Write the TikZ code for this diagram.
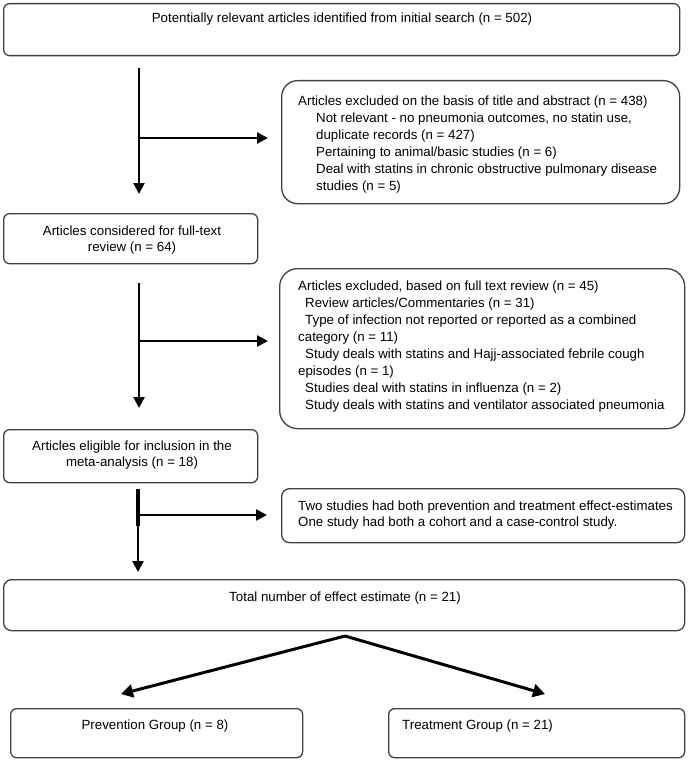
\documentclass[tikz,border=0pt]{standalone}
\usepackage{fontspec}
\setmainfont{Liberation Sans}
\usetikzlibrary{arrows.meta}
\begin{document}
\begin{tikzpicture}[x=1pt,y=-1pt,
  box/.style={draw=black!75, line width=1.3pt, anchor=north west, inner sep=0pt, rounded corners=6pt},
  txt/.style={inner sep=0pt, font=\fontsize{13.3}{17}\selectfont, align=left},
  ctxt/.style={inner sep=0pt, font=\fontsize{13.3}{15.5}\selectfont, align=center},
  arr/.style={line width=2.3pt, -{Triangle[length=11pt,width=11pt]}},
  arrb/.style={line width=3pt, -{Triangle[length=12pt,width=13pt]}}]
\useasboundingbox (0,0) rectangle (689,762);
% boxes
\node[box, minimum width=676pt, minimum height=52pt] (b1) at (3,3) {};
\node[box, minimum width=398pt, minimum height=123pt, rounded corners=16pt] (b2) at (281,80) {};
\node[box, minimum width=254pt, minimum height=50pt] (b3) at (3,213) {};
\node[box, minimum width=405pt, minimum height=160pt, rounded corners=18pt] (b4) at (279,268) {};
\node[box, minimum width=254pt, minimum height=53pt] (b5) at (3,429) {};
\node[box, minimum width=403pt, minimum height=54pt, rounded corners=8pt] (b6) at (281,488) {};
\node[box, minimum width=681pt, minimum height=51pt, rounded corners=8pt] (b7) at (3,579) {};
\node[box, minimum width=292pt, minimum height=49pt] (b8) at (10,708) {};
\node[box, minimum width=296pt, minimum height=49pt] (b9) at (388,708) {};
% texts
\node[txt] (t1) at (342,19) {Potentially relevant articles identified from initial search (n = 502)};
\node[txt, anchor=north west] (t2) at (298,96) {Articles excluded on the basis of title and abstract (n = 438)\\
\hspace{18pt}Not relevant - no pneumonia outcomes, no statin use,\\
\hspace{18pt}duplicate records (n = 427)\\
\hspace{18pt}Pertaining to animal/basic studies (n = 6)\\
\hspace{18pt}Deal with statins in chronic obstructive pulmonary disease\\
\hspace{18pt}studies (n = 5)};
\node[ctxt] (t3) at (132,240) {Articles considered for full-text\\review (n = 64)};
\node[txt, anchor=north west] (t4) at (298,281) {Articles excluded, based on full text review (n = 45)\\
\hspace{7pt}Review articles/Commentaries (n = 31)\\
\hspace{7pt}Type of infection not reported or reported as a combined\\
category (n = 11)\\
\hspace{7pt}Study deals with statins and Hajj-associated febrile cough\\
episodes (n = 1)\\
\hspace{7pt}Studies deal with statins in influenza (n = 2)\\
\hspace{7pt}Study deals with statins and ventilator associated pneumonia};
\node[txt, anchor=north west, font=\fontsize{13.3}{16}\selectfont] (t6) at (298,501) {Two studies had both prevention and treatment effect-estimates\\
One study had both a cohort and a case-control study.};
\node[ctxt] (t5) at (132,455) {Articles eligible for inclusion in the\\meta-analysis (n = 18)};
\node[txt] (t7) at (345,598) {Total number of effect estimate (n = 21)};
\node[txt] (t8) at (155,726) {Prevention Group (n = 8)};
\node[txt, anchor=west] (t9) at (402,726) {Treatment Group (n = 21)};
% connector coordinates
\coordinate (a1s) at (139,68);
\coordinate (a1e) at (139,194);
\coordinate (a1m) at (139,138);
\coordinate (a1r) at (268,138);
\coordinate (a2s) at (139,283);
\coordinate (a2e) at (139,408);
\coordinate (a2m) at (139,341);
\coordinate (a2r) at (268,341);
\coordinate (a3s) at (138,489);
\coordinate (a3k) at (138,526);
\coordinate (a3e) at (138,572);
\coordinate (a3m) at (138,515);
\coordinate (a3r) at (267,515);
\coordinate (ap) at (345,636);
\coordinate (pl) at (121,694);
\coordinate (pr) at (545,694);
% arrows
\draw[arr] (a1s) -- (a1e);
\draw[arr] (a1m) -- (a1r);
\draw[arr] (a2s) -- (a2e);
\draw[arr] (a2m) -- (a2r);
\draw[line width=4pt] (a3s) -- (a3k);
\draw[arr] (a3s) -- (a3e);
\draw[arr] (a3m) -- (a3r);
\draw[arrb, line join=miter] (ap) -- (pl);
\draw[arrb] (ap) -- (pr);
\end{tikzpicture}
\end{document}
